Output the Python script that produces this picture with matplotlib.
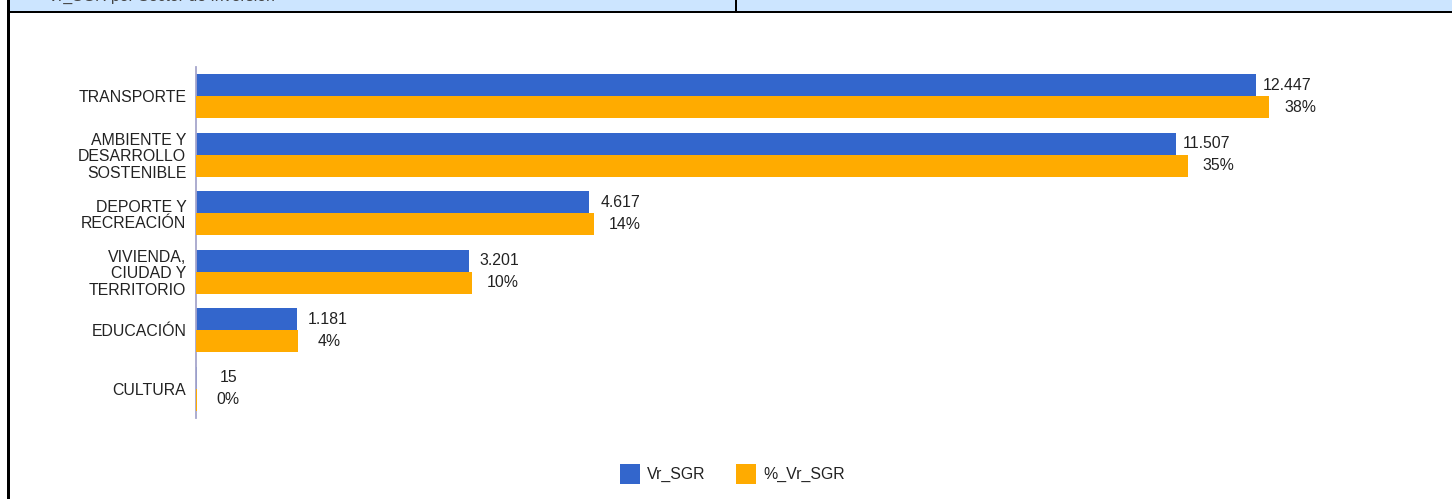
import matplotlib
matplotlib.use("Agg")
import matplotlib.pyplot as plt
from matplotlib.patches import Rectangle

plt.rcParams['font.family'] = ['Liberation Sans', 'DejaVu Sans']

categories = ["TRANSPORTE", "AMBIENTE Y\nDESARROLLO\nSOSTENIBLE", "DEPORTE Y\nRECREACIÓN",
              "VIVIENDA,\nCIUDAD Y\nTERRITORIO", "EDUCACIÓN", "CULTURA"]
vr_sgr = [12447, 11507, 4617, 3201, 1181, 15]
vr_labels = ["12.447", "11.507", "4.617", "3.201", "1.181", "15"]
pct_sgr = [37.76, 34.90, 14.00, 9.71, 3.58, 0.05]
pct_labels = ["38%", "35%", "14%", "10%", "4%", "0%"]
series_names = ["Vr_SGR", "%_Vr_SGR"]
colors = ["#3366CC", "#FFAB00"]
header_text = "Vr_SGR por Sector de Inversión"

W, H = 1452, 499
fig = plt.figure(figsize=(W / 100, H / 100), dpi=100)
fs = 11.4

def px(x0, y0, w, h):
    return (x0 / W, 1 - (y0 + h) / H, w / W, h / H)

ax_left, ax_right, ax_top, ax_bot = 196, 1420, 67, 418
ax = fig.add_axes(px(ax_left, ax_top, ax_right - ax_left, ax_bot - ax_top))
ax2 = ax.twiny()

n = len(categories)
ypos = list(range(n))
bh = 0.376
ax.barh([y - bh / 2 for y in ypos], vr_sgr, height=bh, color=colors[0], zorder=2)
ax2.barh([y + bh / 2 for y in ypos], pct_sgr, height=bh, color=colors[1], zorder=2)

axw = ax_right - ax_left
ax.set_xlim(0, axw / (1060 / 12447))
ax2.set_xlim(0, axw / (1073 / 37.76))
for a in (ax, ax2):
    a.set_ylim(n - 0.5, -0.5)
    for s in ("top", "right", "bottom", "left"):
        a.spines[s].set_visible(False)
    a.tick_params(axis="x", which="both", bottom=False, top=False,
                  labelbottom=False, labeltop=False)
ax.spines["left"].set_visible(True)
ax.spines["left"].set_color("#A6A6CC")
ax.spines["left"].set_linewidth(1.3)
ax.set_yticks(ypos)
ax.set_yticklabels(categories, fontsize=fs, color="#222222", linespacing=1.12,
                   multialignment="right")
ax.tick_params(axis="y", length=0, pad=7)
ax2.tick_params(axis="y", left=False, labelleft=False, right=False, labelright=False)

off = 31 * 0.72
for y, v, lab in zip(ypos, vr_sgr, vr_labels):
    ax.annotate(lab, (v, y - bh / 2), xytext=(off, 0), textcoords="offset points",
                ha="center", va="center", fontsize=fs, color="#222222")
for y, v, lab in zip(ypos, pct_sgr, pct_labels):
    ax2.annotate(lab, (v, y + bh / 2), xytext=(off, 0), textcoords="offset points",
                 ha="center", va="center", fontsize=fs, color="#222222")

# legend
lx = [620, 736]
for i, name in enumerate(series_names):
    fig.add_artist(Rectangle((lx[i] / W, 1 - 484 / H), 20 / W, 20 / H,
                             transform=fig.transFigure, color=colors[i], lw=0))
    fig.text((lx[i] + 27) / W, 1 - 474 / H, name, fontsize=fs, color="#222222",
             ha="left", va="center")

# header frame
fig.add_artist(Rectangle((9 / W, 1 - 11 / H), (W - 9) / W, 11 / H,
                         transform=fig.transFigure, color="#CCE5FF", lw=0, zorder=0))
fig.text(48 / W, 1 - 1 / H, header_text, fontsize=fs, color="#444444",
         ha="left", va="baseline")
fig.add_artist(Rectangle((7 / W, 1 - 13 / H), (W - 7) / W, 2 / H,
                         transform=fig.transFigure, color="black", lw=0))
fig.add_artist(Rectangle((7 / W, 0), 2.5 / W, 1,
                         transform=fig.transFigure, color="black", lw=0))
fig.add_artist(Rectangle((735 / W, 1 - 11 / H), 2 / W, 11 / H,
                         transform=fig.transFigure, color="black", lw=0))

fig.savefig("out.png", dpi=100)
